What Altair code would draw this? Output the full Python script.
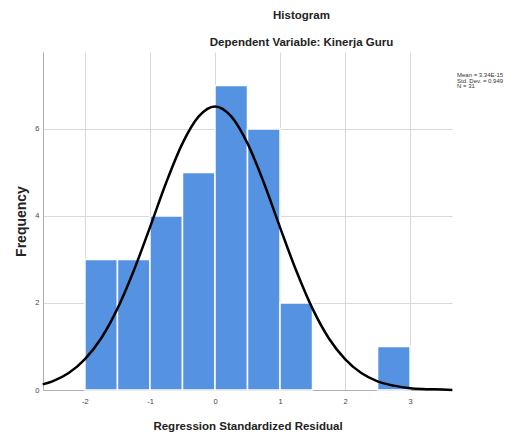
import altair as alt
import pandas as pd

# Histogram bins (lower edge, upper edge) and frequencies
bin_lo = [-2.0, -1.5, -1.0, -0.5, 0.0, 0.5, 1.0, 1.5, 2.0, 2.5]
bin_hi = [-1.5, -1.0, -0.5, 0.0, 0.5, 1.0, 1.5, 2.0, 2.5, 3.0]
counts = [3, 3, 4, 5, 7, 6, 2, 0, 0, 1]

# Normal curve
curve_x = [-2.65, -2.5, -2.25, -2.0, -1.75, -1.5, -1.25, -1.0, -0.75, -0.5, -0.25, 0.0,
           0.25, 0.5, 0.75, 1.0, 1.25, 1.5, 1.75, 2.0, 2.25, 2.5, 2.75, 3.0, 3.25, 3.5, 3.65]
curve_y = [0.13, 0.20, 0.39, 0.71, 1.19, 1.87, 2.74, 3.74, 4.77, 5.67, 6.29, 6.52,
           6.29, 5.67, 4.77, 3.74, 2.74, 1.87, 1.19, 0.71, 0.39, 0.20, 0.10, 0.04, 0.02, 0.01, 0.0]

x_ticks = [-2, -1, 0, 1, 2, 3]
y_ticks = [0, 2, 4, 6]
stats = ["Mean = 3.34E-15", "Std. Dev. = 0.949", "N = 31"]

bars_df = pd.DataFrame({"lo": bin_lo, "hi": bin_hi, "count": counts})
curve_df = pd.DataFrame({"x": curve_x, "y": curve_y})

FONT = "Liberation Sans"
xscale = alt.Scale(domain=[-2.645, 3.645], nice=False, zero=False)
yscale = alt.Scale(domain=[0, 7.77], nice=False)

xaxis = alt.Axis(values=x_ticks, labelExpr="'' + datum.value", title="Regression Standardized Residual",
                 ticks=False, labelPadding=7, labelFontSize=7.5, labelColor="#444444", labelFont=FONT,
                 titleFont=FONT, titleFontSize=11.5, titleFontWeight="bold", titleColor="#222222",
                 titlePadding=16, grid=True, gridColor="#d9d9d9", domainColor="#b0b0b0", labelFlush=False)
yaxis = alt.Axis(values=y_ticks, format="d", title="Frequency", ticks=False, labelPadding=4,
                 labelFontSize=7.5, labelColor="#444444", labelFont=FONT,
                 titleFont=FONT, titleFontSize=14, titleFontWeight="bold", titleColor="#222222",
                 titlePadding=6, grid=True, gridColor="#d9d9d9", domainColor="#b0b0b0")

bars = alt.Chart(bars_df).transform_filter("datum.count > 0").mark_bar(
    color="#5593e2", stroke="white", strokeWidth=1.5
).encode(
    x=alt.X("lo:Q", scale=xscale, axis=xaxis),
    x2="hi:Q",
    y=alt.Y("count:Q", scale=yscale, axis=yaxis),
    y2=alt.datum(0),
)

curve = alt.Chart(curve_df).mark_line(color="black", strokeWidth=2.5, interpolate="monotone").encode(
    x=alt.X("x:Q", scale=xscale),
    y=alt.Y("y:Q", scale=yscale),
)

note = alt.Chart(pd.DataFrame({"t": [0]})).mark_text(
    text=stats, align="left", baseline="top", fontSize=6, lineHeight=5.7,
    font=FONT, color="#333333"
).encode(x=alt.value(414), y=alt.value(20))

chart = alt.layer(bars, curve, note).properties(
    width=409, height=338,
    title=alt.TitleParams("Histogram", subtitle="Dependent Variable: Kinerja Guru",
                          font=FONT, fontSize=11.5, fontWeight="bold", color="#222222",
                          subtitleFont=FONT, subtitleFontSize=11.5, subtitleFontWeight="bold",
                          subtitleColor="#222222", subtitlePadding=15, anchor="middle",
                          dx=54, offset=4),
    autosize=alt.AutoSizeParams(type="none"),
    padding={"left": 35, "top": 44, "right": 56, "bottom": 44},
).configure_view(stroke=None)

chart.save("out.html", embed_options={"renderer": "svg", "actions": False})
